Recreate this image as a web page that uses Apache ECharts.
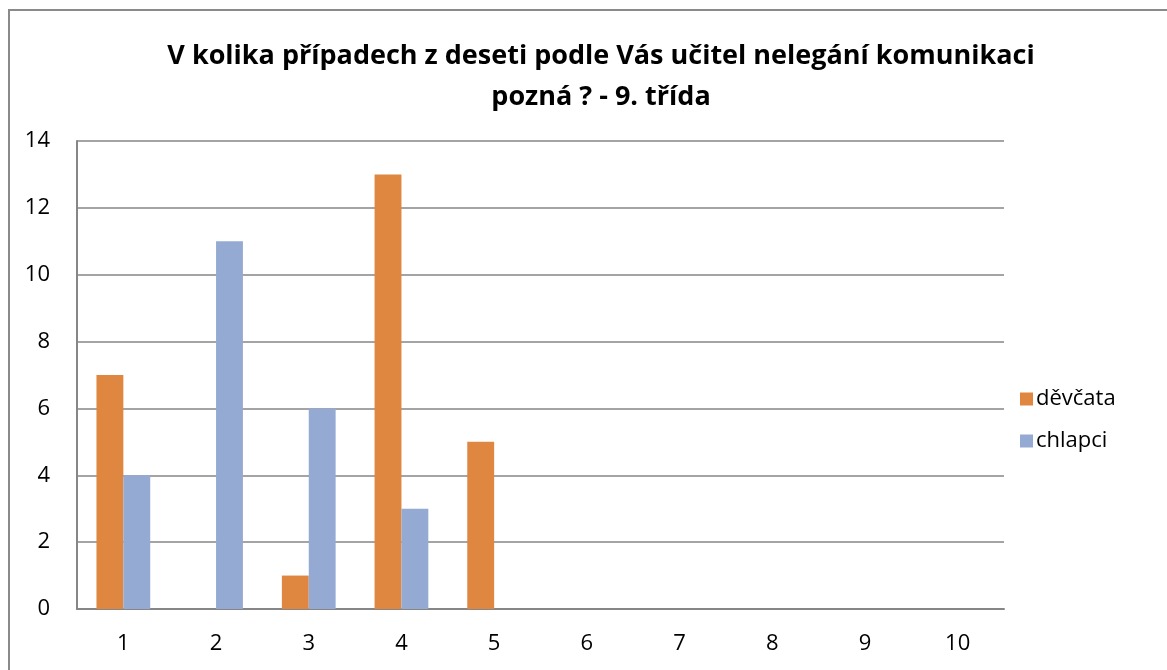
<!DOCTYPE html>
<html>
<head>
<meta charset="utf-8">
<script src="https://cdn.jsdelivr.net/npm/echarts@6/dist/echarts.min.js"></script>
<style>
  html, body { margin: 0; padding: 0; background: #fff; }
  #frame {
    position: absolute; left: 8px; top: 9px; width: 1159px; height: 661px;
    border-top: 2px solid #8a8a8a; border-left: 2px solid #8a8a8a;
    box-sizing: border-box;
  }
  #chart { position: absolute; left: 0; top: 0; width: 1167px; height: 670px; }
</style>
</head>
<body>
<div id="frame"></div>
<div id="chart"></div>
<script>
var categories = ['1', '2', '3', '4', '5', '6', '7', '8', '9', '10'];
var devcata = [7, 0, 1, 13, 5, 0, 0, 0, 0, 0];
var chlapci = [4, 11, 6, 3, 0, 0, 0, 0, 0, 0];
var yTicks = { min: 0, max: 14, interval: 2 };

var font = '"Open Sans", "Liberation Sans", sans-serif';

var chart = echarts.init(document.getElementById('chart'));
chart.setOption({
  animation: false,
  title: {
    text: 'V kolika případech z deseti podle Vás učitel nelegání komunikaci\npozná ? - 9. třída',
    left: 596,
    textAlign: 'center',
    top: 31,
    textStyle: {
      fontFamily: font,
      fontWeight: 'bold',
      fontSize: 27,
      lineHeight: 41,
      color: '#000'
    }
  },
  legend: {
    orient: 'vertical',
    left: 1015,
    top: 383,
    itemWidth: 13,
    itemHeight: 13,
    itemGap: 20,
    icon: 'rect',
    textStyle: { fontFamily: font, fontSize: 22, color: '#000', padding: [0, 0, 0, -2] },
    data: ['děvčata', 'chlapci']
  },
  grid: { left: 77, right: 163, top: 141, bottom: 61 },
  xAxis: {
    type: 'category',
    data: categories,
    axisLine: { lineStyle: { color: '#868686', width: 2 } },
    axisTick: { show: false },
    axisLabel: { color: '#000', fontFamily: font, fontSize: 22, margin: 24 }
  },
  yAxis: {
    type: 'value',
    min: yTicks.min,
    max: yTicks.max,
    interval: yTicks.interval,
    axisLine: { show: true, lineStyle: { color: '#868686', width: 2 } },
    axisTick: { show: false },
    splitLine: { lineStyle: { color: '#868686', width: 1.5 } },
    axisLabel: { color: '#000', fontFamily: font, fontSize: 22, margin: 27 }
  },
  series: [
    {
      name: 'děvčata',
      type: 'bar',
      data: devcata,
      barGap: '0%',
      barCategoryGap: '42%',
      itemStyle: { color: '#DF8641' }
    },
    {
      name: 'chlapci',
      type: 'bar',
      data: chlapci,
      barGap: '0%',
      barCategoryGap: '42%',
      itemStyle: { color: '#95AAD3' }
    }
  ]
});
</script>
</body>
</html>
